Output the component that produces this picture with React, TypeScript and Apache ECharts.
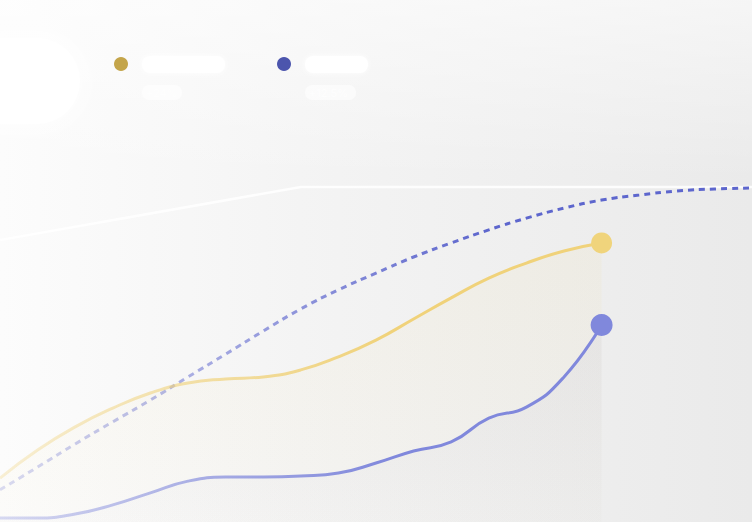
import React, { useEffect, useRef } from "react";
import * as echarts from "echarts";

// x positions (weeks), the solid series stop at week 17
const weeks = Array.from({ length: 21 }, (_, i) => `W${i + 1}`);

const revenue = [13.1, 21.5, 28.4, 34.0, 38.5, 41.5, 42.7, 43.3, 45.4, 49.3, 54.3, 60.6, 66.9, 72.8, 77.3, 80.9, 83.3];
const costs = [1.2, 1.2, 2.4, 5.1, 8.7, 12.2, 13.4, 13.4, 13.7, 14.6, 17.6, 21.2, 23.9, 31.0, 34.3, 43.3, 58.8];
const costsForecast = [9.6, 16.4, 23.3, 29.9, 36.4, 43.3, 50.1, 57.0, 63.6, 69.3, 74.3, 79.1, 83.3, 87.2, 90.7, 93.7, 96.1, 97.6, 98.8, 99.4, 99.7];
const ceiling = [84.2, null, null, null, null, null, null, null, 100, null, null, null, null, null, null, null, null, null, null, null, 100];

const legendNames = ["Revenue", "Costs"];
const legendSubs = ["+24%", "+12.5%"];

const hGrad = (from: string, to: string) =>
  new echarts.graphic.LinearGradient(0, 0, 1, 0, [
    { offset: 0, color: from },
    { offset: 0.65, color: to },
    { offset: 1, color: to },
  ]);

const vGrad = (top: string, bottom: string) =>
  new echarts.graphic.LinearGradient(0, 0, 0, 1, [
    { offset: 0, color: top },
    { offset: 1, color: bottom },
  ]);

const App: React.FC = () => {
  const chartRef = useRef<HTMLDivElement>(null);

  useEffect(() => {
    document.body.style.margin = "0";
    if (!chartRef.current) return;
    const chart = echarts.init(chartRef.current, undefined, { renderer: "svg" });
    const last = revenue.length - 1;
    const endDot = (size: number) => (_v: unknown, p: any) => (p.dataIndex === last ? size : 0);

    const option: echarts.EChartsOption = {
      animation: false,
      backgroundColor: new echarts.graphic.LinearGradient(0, 0, 1, 0, [
        { offset: 0, color: "#fcfcfc" },
        { offset: 0.45, color: "#f3f3f3" },
        { offset: 1, color: "#eaeaea" },
      ]),
      grid: { left: 0, right: 0, top: 187, bottom: 0 },
      xAxis: {
        type: "category",
        data: weeks,
        boundaryGap: false,
        show: false,
      },
      yAxis: { type: "value", min: 0, max: 100, show: false },
      graphic: [
        {
          type: "rect",
          left: 0,
          top: 0,
          shape: { width: 752, height: 180 },
          style: { fill: vGrad("rgba(255,255,255,0.55)", "rgba(255,255,255,0)") },
          silent: true,
        },
        {
          type: "rect",
          shape: { x: -40, y: 38, width: 120, height: 86, r: 43 },
          style: { fill: "#ffffff", shadowBlur: 24, shadowColor: "rgba(255,255,255,1)" },
          silent: true,
        },
        { type: "circle", shape: { cx: 121, cy: 64, r: 7 }, style: { fill: "#c4a54a" } },
        { type: "circle", shape: { cx: 284, cy: 64, r: 7 }, style: { fill: "#4c55ad" } },
        {
          type: "text",
          x: 142,
          y: 56,
          style: {
            text: legendNames[0],
            fill: "#ffffff",
            font: "bold 12px Inter",
            backgroundColor: "#ffffff",
            borderRadius: 8,
            width: 75,
            height: 17,
            lineHeight: 17,
            padding: [0, 0, 0, 8],
            shadowBlur: 5,
            shadowColor: "rgba(255,255,255,0.9)",
          },
        },
        {
          type: "text",
          x: 142,
          y: 85,
          style: {
            text: legendSubs[0],
            fill: "rgba(255,255,255,0.7)",
            font: "11px Inter",
            backgroundColor: "rgba(255,255,255,0.6)",
            borderRadius: 7,
            width: 36,
            height: 15,
            lineHeight: 15,
            padding: [0, 0, 0, 4],
          },
        },
        {
          type: "text",
          x: 305,
          y: 56,
          style: {
            text: legendNames[1],
            fill: "#ffffff",
            font: "bold 12px Inter",
            backgroundColor: "#ffffff",
            borderRadius: 8,
            width: 55,
            height: 17,
            lineHeight: 17,
            padding: [0, 0, 0, 8],
            shadowBlur: 5,
            shadowColor: "rgba(255,255,255,0.9)",
          },
        },
        {
          type: "text",
          x: 305,
          y: 85,
          style: {
            text: legendSubs[1],
            fill: "rgba(255,255,255,0.7)",
            font: "11px Inter",
            backgroundColor: "rgba(255,255,255,0.6)",
            borderRadius: 7,
            width: 47,
            height: 15,
            lineHeight: 15,
            padding: [0, 0, 0, 4],
          },
        },
      ],
      series: [
        {
          name: "Ceiling",
          type: "line",
          data: ceiling,
          connectNulls: true,
          clip: false,
          showSymbol: false,
          lineStyle: { color: "rgba(255,255,255,0.85)", width: 2.5 },
          z: 1,
        },
        {
          name: "Forecast",
          type: "line",
          data: costsForecast,
          smooth: true,
          clip: false,
          showSymbol: false,
          lineStyle: {
            width: 3,
            type: [6, 5],
            color: hGrad("rgba(110,117,212,0.25)", "#5d66cd"),
          },
          z: 3,
        },
        {
          name: legendNames[0],
          type: "line",
          data: revenue,
          smooth: true,
          symbol: "circle",
          symbolSize: endDot(21) as any,
          itemStyle: { color: "#f0d47c" },
          lineStyle: { width: 3, color: hGrad("rgba(240,210,122,0.3)", "#f0d27a") },
          areaStyle: { color: vGrad("rgba(240,215,130,0.13)", "rgba(240,215,130,0.03)") },
          z: 4,
        },
        {
          name: legendNames[1],
          type: "line",
          data: costs,
          smooth: true,
          symbol: "circle",
          symbolSize: endDot(22) as any,
          itemStyle: { color: "#8088dc" },
          lineStyle: { width: 3, color: hGrad("rgba(128,136,221,0.3)", "#8088dc") },
          areaStyle: { color: vGrad("rgba(128,136,200,0.10)", "rgba(128,136,200,0.02)") },
          z: 5,
        },
      ],
    };

    chart.setOption(option);
    return () => chart.dispose();
  }, []);

  return <div ref={chartRef} style={{ width: 752, height: 522 }} />;
};

export default App;
